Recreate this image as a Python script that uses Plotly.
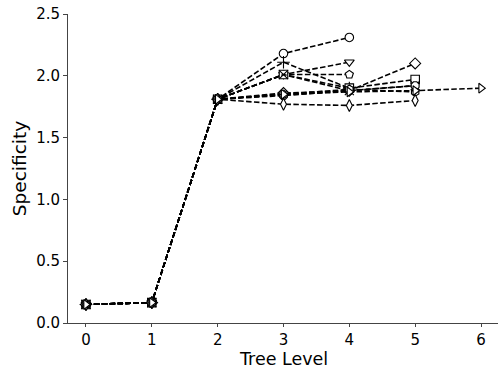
import plotly.graph_objects as go

levels = [0, 1, 2, 3, 4, 5, 6]
base = [0.15, 0.165, 1.81]

series_circle = base + [2.18, 2.31]
series_tridown = base + [2.01, 2.11]
series_pentagon = base + [2.01, 2.01]
series_plus = base + [2.11, 1.90]
series_square = base + [2.01, 1.90, 1.97]
series_x = base + [2.01, 1.88, 1.92]
series_diamond = base + [1.86, 1.88, 2.10]
series_octagon = base + [1.84, 1.88, 1.92]
series_hexagon = base + [1.85, 1.89, 1.87]
series_thindiamond = base + [1.77, 1.76, 1.80]
series_triright = base + [1.85, 1.87, 1.88, 1.90]

series = [
    (series_circle, "circle"),
    (series_tridown, "triangle-down"),
    (series_pentagon, "pentagon"),
    (series_plus, "cross-thin"),
    (series_square, "square"),
    (series_x, "x-thin"),
    (series_diamond, "diamond"),
    (series_octagon, "octagon"),
    (series_hexagon, "hexagon"),
    (series_thindiamond, "diamond-tall"),
    (series_triright, "triangle-right"),
]

fig = go.Figure()
for vals, sym in series:
    xs = levels[:len(vals)]
    thin = sym.endswith("-thin")
    fig.add_trace(go.Scatter(
        x=xs, y=vals, mode="lines+markers",
        line=dict(color="black", width=1.6, dash="5.5px,2.4px"),
        marker=dict(symbol=sym, size=8.5 if not thin else 9,
                    color="white" if not thin else "black",
                    line=dict(color="black", width=1.1)),
        showlegend=False,
    ))

fig.update_layout(
    width=498, height=368,
    margin=dict(l=68, r=0, t=14, b=45),
    plot_bgcolor="white", paper_bgcolor="white",
    font=dict(family="DejaVu Sans", size=15, color="black"),
    xaxis=dict(range=[-0.273, 6.258], tickmode="array", tickvals=levels,
               ticktext=[str(v) for v in levels],
               showgrid=False, zeroline=False, showline=True, linecolor="#444",
               linewidth=1, ticks="outside", ticklen=3, tickcolor="#444"),
    yaxis=dict(range=[0, 2.5], tickmode="array",
               tickvals=[0, 0.5, 1.0, 1.5, 2.0, 2.5],
               ticktext=["0.0", "0.5", "1.0", "1.5", "2.0", "2.5"],
               showgrid=False, zeroline=False, showline=True, linecolor="#444",
               linewidth=1, ticks="outside", ticklen=4, tickcolor="#444",
               title=dict(text="Specificity", font=dict(size=18.5), standoff=4)),
    annotations=[dict(text="Tree Level", xref="paper", yref="paper",
                      x=0.5, y=-0.118, xanchor="center", yanchor="middle",
                      showarrow=False, font=dict(size=17.5))],
)

fig.write_html("out.html")
